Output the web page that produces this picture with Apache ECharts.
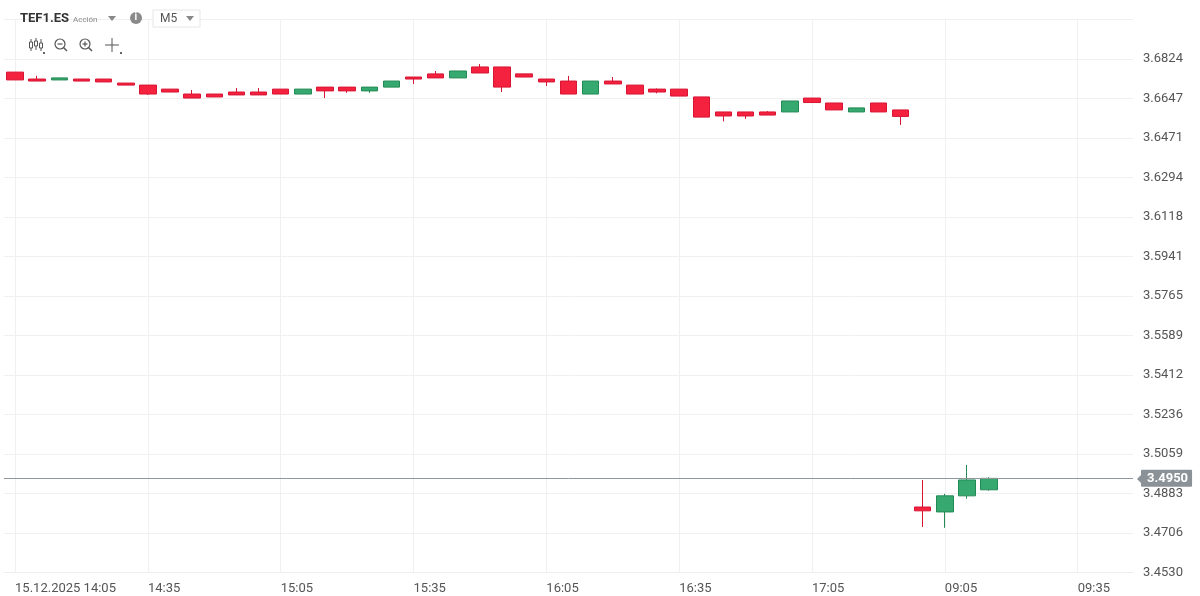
<!DOCTYPE html>
<html><head><meta charset="utf-8">
<script src="https://cdn.jsdelivr.net/npm/echarts@6/dist/echarts.min.js"></script>
<style>html,body{margin:0;padding:0;background:#fff}#c{width:1200px;height:596px}</style>
</head><body><div id="c"></div>
<script>
const categories = [];
(function(){
  for (let i = 0; i <= 40; i++) { const m = 14*60+5+5*i; categories.push(String(Math.floor(m/60)).padStart(2,'0')+':'+String(m%60).padStart(2,'0')); }
  for (let i = 0; i <= 9; i++) { const m = 9*60+5*i; categories.push(String(Math.floor(m/60)).padStart(2,'0')+':'+String(m%60).padStart(2,'0')); }
})();
const opens  = [3.6765,3.6734,3.6730,3.6734,3.6734,3.6716,3.6707,3.6689,3.6667,3.6667,3.6676,3.6676,3.6689,3.6667,3.6698,3.6698,3.6681,3.6698,3.6743,3.6757,3.6739,3.6788,3.6788,3.6757,3.6734,3.6725,3.6667,3.6725,3.6707,3.6689,3.6689,3.6654,3.6587,3.6587,3.6587,3.6587,3.6649,3.6627,3.6587,3.6627,3.6596,3.4822,3.4800,3.4872,3.4899];
const closes = [3.6730,3.6725,3.6739,3.6725,3.6721,3.6707,3.6667,3.6676,3.6649,3.6654,3.6663,3.6663,3.6667,3.6689,3.6681,3.6681,3.6698,3.6725,3.6734,3.6739,3.6770,3.6761,3.6698,3.6743,3.6721,3.6667,3.6725,3.6712,3.6667,3.6676,3.6658,3.6564,3.6569,3.6569,3.6573,3.6636,3.6629,3.6596,3.6605,3.6587,3.6567,3.4805,3.4872,3.4943,3.4950];
const lows   = [3.6730,3.6725,3.6730,3.6725,3.6721,3.6707,3.6663,3.6676,3.6649,3.6654,3.6663,3.6663,3.6667,3.6667,3.6649,3.6672,3.6672,3.6698,3.6712,3.6739,3.6739,3.6761,3.6676,3.6743,3.6703,3.6667,3.6667,3.6712,3.6667,3.6670,3.6658,3.6564,3.6545,3.6556,3.6573,3.6587,3.6629,3.6596,3.6587,3.6587,3.6529,3.4733,3.4729,3.4859,3.4895];
const highs  = [3.6765,3.6748,3.6739,3.6734,3.6734,3.6716,3.6707,3.6689,3.6685,3.6667,3.6694,3.6694,3.6689,3.6689,3.6698,3.6698,3.6698,3.6725,3.6743,3.6770,3.6770,3.6801,3.6788,3.6757,3.6734,3.6748,3.6725,3.6743,3.6707,3.6692,3.6689,3.6654,3.6587,3.6587,3.6591,3.6636,3.6649,3.6627,3.6605,3.6627,3.6596,3.4943,3.4881,3.5010,3.4955];
const yTickLabels = ['3.4530','3.4706','3.4883','3.5059','3.5236','3.5412','3.5589','3.5765','3.5941','3.6118','3.6294','3.6471','3.6647','3.6824','3.7000'];
const lastPrice = 3.4950;
const yMin = 3.45295, yStep = 0.0176462;

const data = categories.map((c,i)=> i < opens.length ? [opens[i],closes[i],lows[i],highs[i]] : '-');
const vLines = categories.filter((c,i)=> i%6===0).map(c=>({xAxis:c}));

const chart = echarts.init(document.getElementById('c'));
chart.setOption({
  animation:false,
  grid:{left:4,right:67,top:19.5,bottom:23.5},
  xAxis:{type:'category',data:categories,boundaryGap:true,
    axisLine:{lineStyle:{color:'#eeeeee'}},axisTick:{show:false},splitLine:{show:false},
    axisLabel:{interval:5,align:'left',margin:10,color:'#555',fontFamily:'Roboto',fontSize:13,
      formatter:(v,i)=> i===0 ? '15.12.2025 '+v : v}},
  yAxis:{type:'value',position:'right',min:yMin,max:yMin+14*yStep,interval:yStep,scale:true,
    axisLine:{show:false},axisTick:{show:false},
    splitLine:{lineStyle:{color:'#f0f0f0'}},
    axisLabel:{margin:10,color:'#555',fontFamily:'Roboto',fontSize:13,showMaxLabel:false,
      formatter:(v)=> yTickLabels[Math.round((v-yMin)/yStep)] || ''}},
  series:[{type:'candlestick',data:data,barWidth:17,z:3,
    itemStyle:{color:'#35a96f',color0:'#f4213f',borderColor:'#238a55',borderColor0:'#d81533',borderWidth:1},
    markLine:{symbol:'none',silent:true,animation:false,z:1,
      data:vLines.map(d=>Object.assign({},d,{lineStyle:{color:'#f0f0f0',width:1,type:'solid'},label:{show:false}}))}
  },{type:'line',data:[],z:4,
    markLine:{symbol:'none',silent:true,animation:false,precision:4,
      data:[{yAxis:lastPrice,lineStyle:{color:'#8f979d',width:1,type:'solid'},
         label:{show:true,position:'end',distance:8,formatter:lastPrice.toFixed(4),color:'#fff',fontWeight:'bold',
           fontFamily:'Roboto',fontSize:13,backgroundColor:'#8a9298',padding:[2,4,2,6],borderRadius:1}}]}
  }],
  graphic:[
    {type:'rect',z:0,shape:{x:0,y:17,width:1140,height:4},style:{fill:'#fff'}},
    {type:'polygon',z:5,shape:{points:[[1137,479],[1144,472],[1144,486]]},style:{fill:'#8a9298'}},
    {type:'text',left:20,top:12,z:10,style:{text:'TEF1.ES',font:'bold 13px Roboto',fill:'#333'}},
    {type:'text',left:73,top:16,z:10,style:{text:'Acción',font:'8px Roboto',fill:'#888'}},
    {type:'polygon',z:10,shape:{points:[[108,16],[116,16],[112,21]]},style:{fill:'#888'}},
    {type:'circle',z:10,shape:{cx:136,cy:18,r:6},style:{fill:'#8a8a8a'}},
    {type:'text',z:11,left:134.5,top:12.5,style:{text:'i',font:'bold 10px Roboto',fill:'#fff'}},
    {type:'rect',z:10,shape:{x:153,y:10,width:47,height:17},style:{fill:'#fff',stroke:'#e6e6e6'}},
    {type:'text',z:11,left:160,top:13,style:{text:'M5',font:'12px Roboto',fill:'#555'}},
    {type:'polygon',z:11,shape:{points:[[186,16],[194,16],[190,21]]},style:{fill:'#888'}},
    {type:'group',z:10,children:[
      {type:'line',shape:{x1:31,y1:39,x2:31,y2:51},style:{stroke:'#555',lineWidth:1}},
      {type:'rect',shape:{x:29.5,y:42,width:3,height:6},style:{fill:'#fff',stroke:'#555'}},
      {type:'line',shape:{x1:36,y1:38,x2:36,y2:50},style:{stroke:'#555',lineWidth:1}},
      {type:'rect',shape:{x:34.5,y:41,width:3,height:5},style:{fill:'#fff',stroke:'#555'}},
      {type:'line',shape:{x1:41,y1:39,x2:41,y2:51},style:{stroke:'#555',lineWidth:1}},
      {type:'rect',shape:{x:39.5,y:43,width:3,height:5},style:{fill:'#fff',stroke:'#555'}},
      {type:'circle',shape:{cx:44,cy:53,r:1},style:{fill:'#333'}},
      {type:'circle',shape:{cx:60,cy:44,r:5},style:{fill:'none',stroke:'#555',lineWidth:1.2}},
      {type:'line',shape:{x1:57.5,y1:44,x2:62.5,y2:44},style:{stroke:'#555',lineWidth:1.2}},
      {type:'line',shape:{x1:63.5,y1:47.5,x2:67,y2:51},style:{stroke:'#555',lineWidth:1.4}},
      {type:'circle',shape:{cx:85,cy:44,r:5},style:{fill:'none',stroke:'#555',lineWidth:1.2}},
      {type:'line',shape:{x1:82.5,y1:44,x2:87.5,y2:44},style:{stroke:'#555',lineWidth:1.2}},
      {type:'line',shape:{x1:85,y1:41.5,x2:85,y2:46.5},style:{stroke:'#555',lineWidth:1.2}},
      {type:'line',shape:{x1:88.5,y1:47.5,x2:92,y2:51},style:{stroke:'#555',lineWidth:1.4}},
      {type:'line',shape:{x1:105,y1:45,x2:119,y2:45},style:{stroke:'#555',lineWidth:1}},
      {type:'line',shape:{x1:112,y1:38,x2:112,y2:52},style:{stroke:'#555',lineWidth:1}},
      {type:'circle',shape:{cx:121,cy:53,r:1},style:{fill:'#333'}}
    ]}
  ]
});
</script></body></html>
